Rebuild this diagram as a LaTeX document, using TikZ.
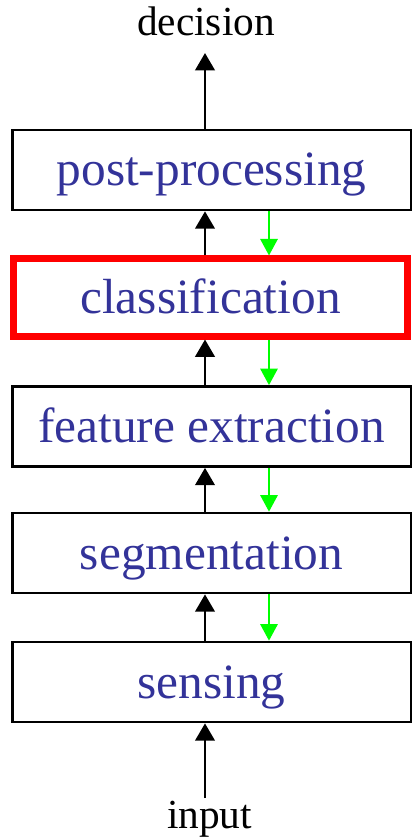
\documentclass[tikz,border=0pt]{standalone}
\usepackage{fontspec}
\setmainfont{Liberation Serif}
\usepackage{xcolor}
\usetikzlibrary{arrows.meta}

\definecolor{stageblue}{RGB}{51,51,153}
\definecolor{feedgreen}{RGB}{0,255,0}

\begin{document}
\begin{tikzpicture}[x=0.75pt, y=-0.75pt,
        stage/.style={draw=black, line width=2pt, minimum width=299pt, minimum height=60pt,
            inner sep=0pt, text=stageblue, font=\fontsize{37}{40}\selectfont,
            text height=25pt, text depth=1pt},
        upflow/.style={line width=2.2pt, -{Triangle[width=14.5pt, length=13pt]}},
        downflow/.style={draw=feedgreen, line width=1.8pt, -{Triangle[width=13pt, length=12.5pt]}},
        ends/.style={font=\fontsize{31}{34}\selectfont, inner sep=0pt, anchor=base}]
            \useasboundingbox (0,0) rectangle (412,837);

            % Stages
            \foreach \name/\y/\txt in {post/170/post-processing, feat/426.5/feature extraction, seg/553/segmentation, sens/682/sensing}
            {
                \node[stage] (\name) at (211.5,\y) {\txt};
            }
            \node[stage, draw=red, line width=5.25pt, minimum width=296pt, minimum height=57.75pt] (cls) at (210.5,297.5) {classification};

            % Input and output
            \node[ends] (decision) at (206,36) {decision};
            \node[ends] (input) at (209.5,828) {input};
            \coordinate (up) at (205,0);
            \coordinate (dn) at (269,0);
            \coordinate (top) at (205,53);
            \coordinate (bottom) at (205,798);

            % Bottom-up flow
            \draw[upflow] (bottom) -- (sens.south -| up);
            \foreach \a/\b in {sens/seg, seg/feat, feat/cls, cls/post}
            {
                \draw[upflow] (\a.north -| up) -- (\b.south -| up);
            }
            \draw[upflow] (post.north -| up) -- (top);

            % Top-down feedback
            \foreach \a/\b in {post/cls, cls/feat, feat/seg, seg/sens}
            {
                \draw[downflow] (\a.south -| dn) -- (\b.north -| dn);
            }

        \end{tikzpicture}
\end{document}
